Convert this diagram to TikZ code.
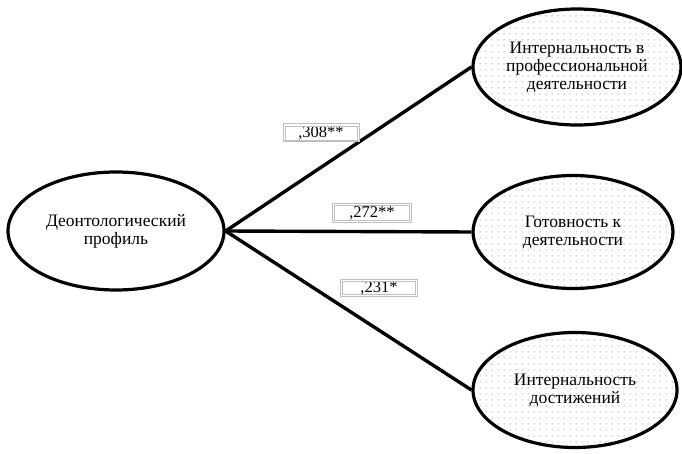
\documentclass[tikz,border=0pt]{standalone}
\usepackage{fontspec}
\setmainfont{Liberation Serif}
\usetikzlibrary{shapes.geometric,patterns.meta}
\begin{document}
\begin{tikzpicture}[x=1pt,y=-1pt,
  ell/.style={ellipse,draw=black,line width=3.2pt,inner sep=0pt,align=center,
    font=\fontsize{17.5}{18}\selectfont},
  dotted ell/.style={ell,pattern={Dots[distance=6pt,radius=0.5pt]},pattern color=black!70},
  conn/.style={line width=3.4pt},
  lbl/.style={draw=black!25,line width=1pt,fill=white,
    inner sep=0pt,font=\fontsize{16.5}{18}\selectfont},
  inner/.style={draw=black!25,line width=0.8pt}]
\useasboundingbox (0,0) rectangle (682,454);
\node[ell,minimum width=216pt,minimum height=118pt] (dp) at (116,231) {Деонтологический\\профиль};
\node[dotted ell,minimum width=208pt,minimum height=116pt] (ip) at (577,67) {Интернальность в\\профессиональной\\деятельности};
\node[dotted ell,minimum width=200pt,minimum height=113pt] (gd) at (573,232) {Готовность к\\деятельности};
\node[dotted ell,minimum width=204pt,minimum height=115pt] (id) at (575,390) {Интернальность\\достижений};
\draw[conn] (dp.east) -- (ip.west);
\draw[conn] (dp.east) -- (gd.west);
\draw[conn] (dp.east) -- (id.west);
\node[lbl,minimum width=76pt,minimum height=18pt] (l1) at (321,133) {,308**};
\node[lbl,minimum width=79pt,minimum height=19pt] (l2) at (372,213) {,272**};
\node[lbl,minimum width=77pt,minimum height=17pt] (l3) at (379,288) {,231*};
\foreach \b in {l1,l2,l3}
  \draw[inner] ([shift={(2.5,2.5)}]\b.north west) rectangle ([shift={(-2.5,-2.5)}]\b.south east);
\end{tikzpicture}
\end{document}
